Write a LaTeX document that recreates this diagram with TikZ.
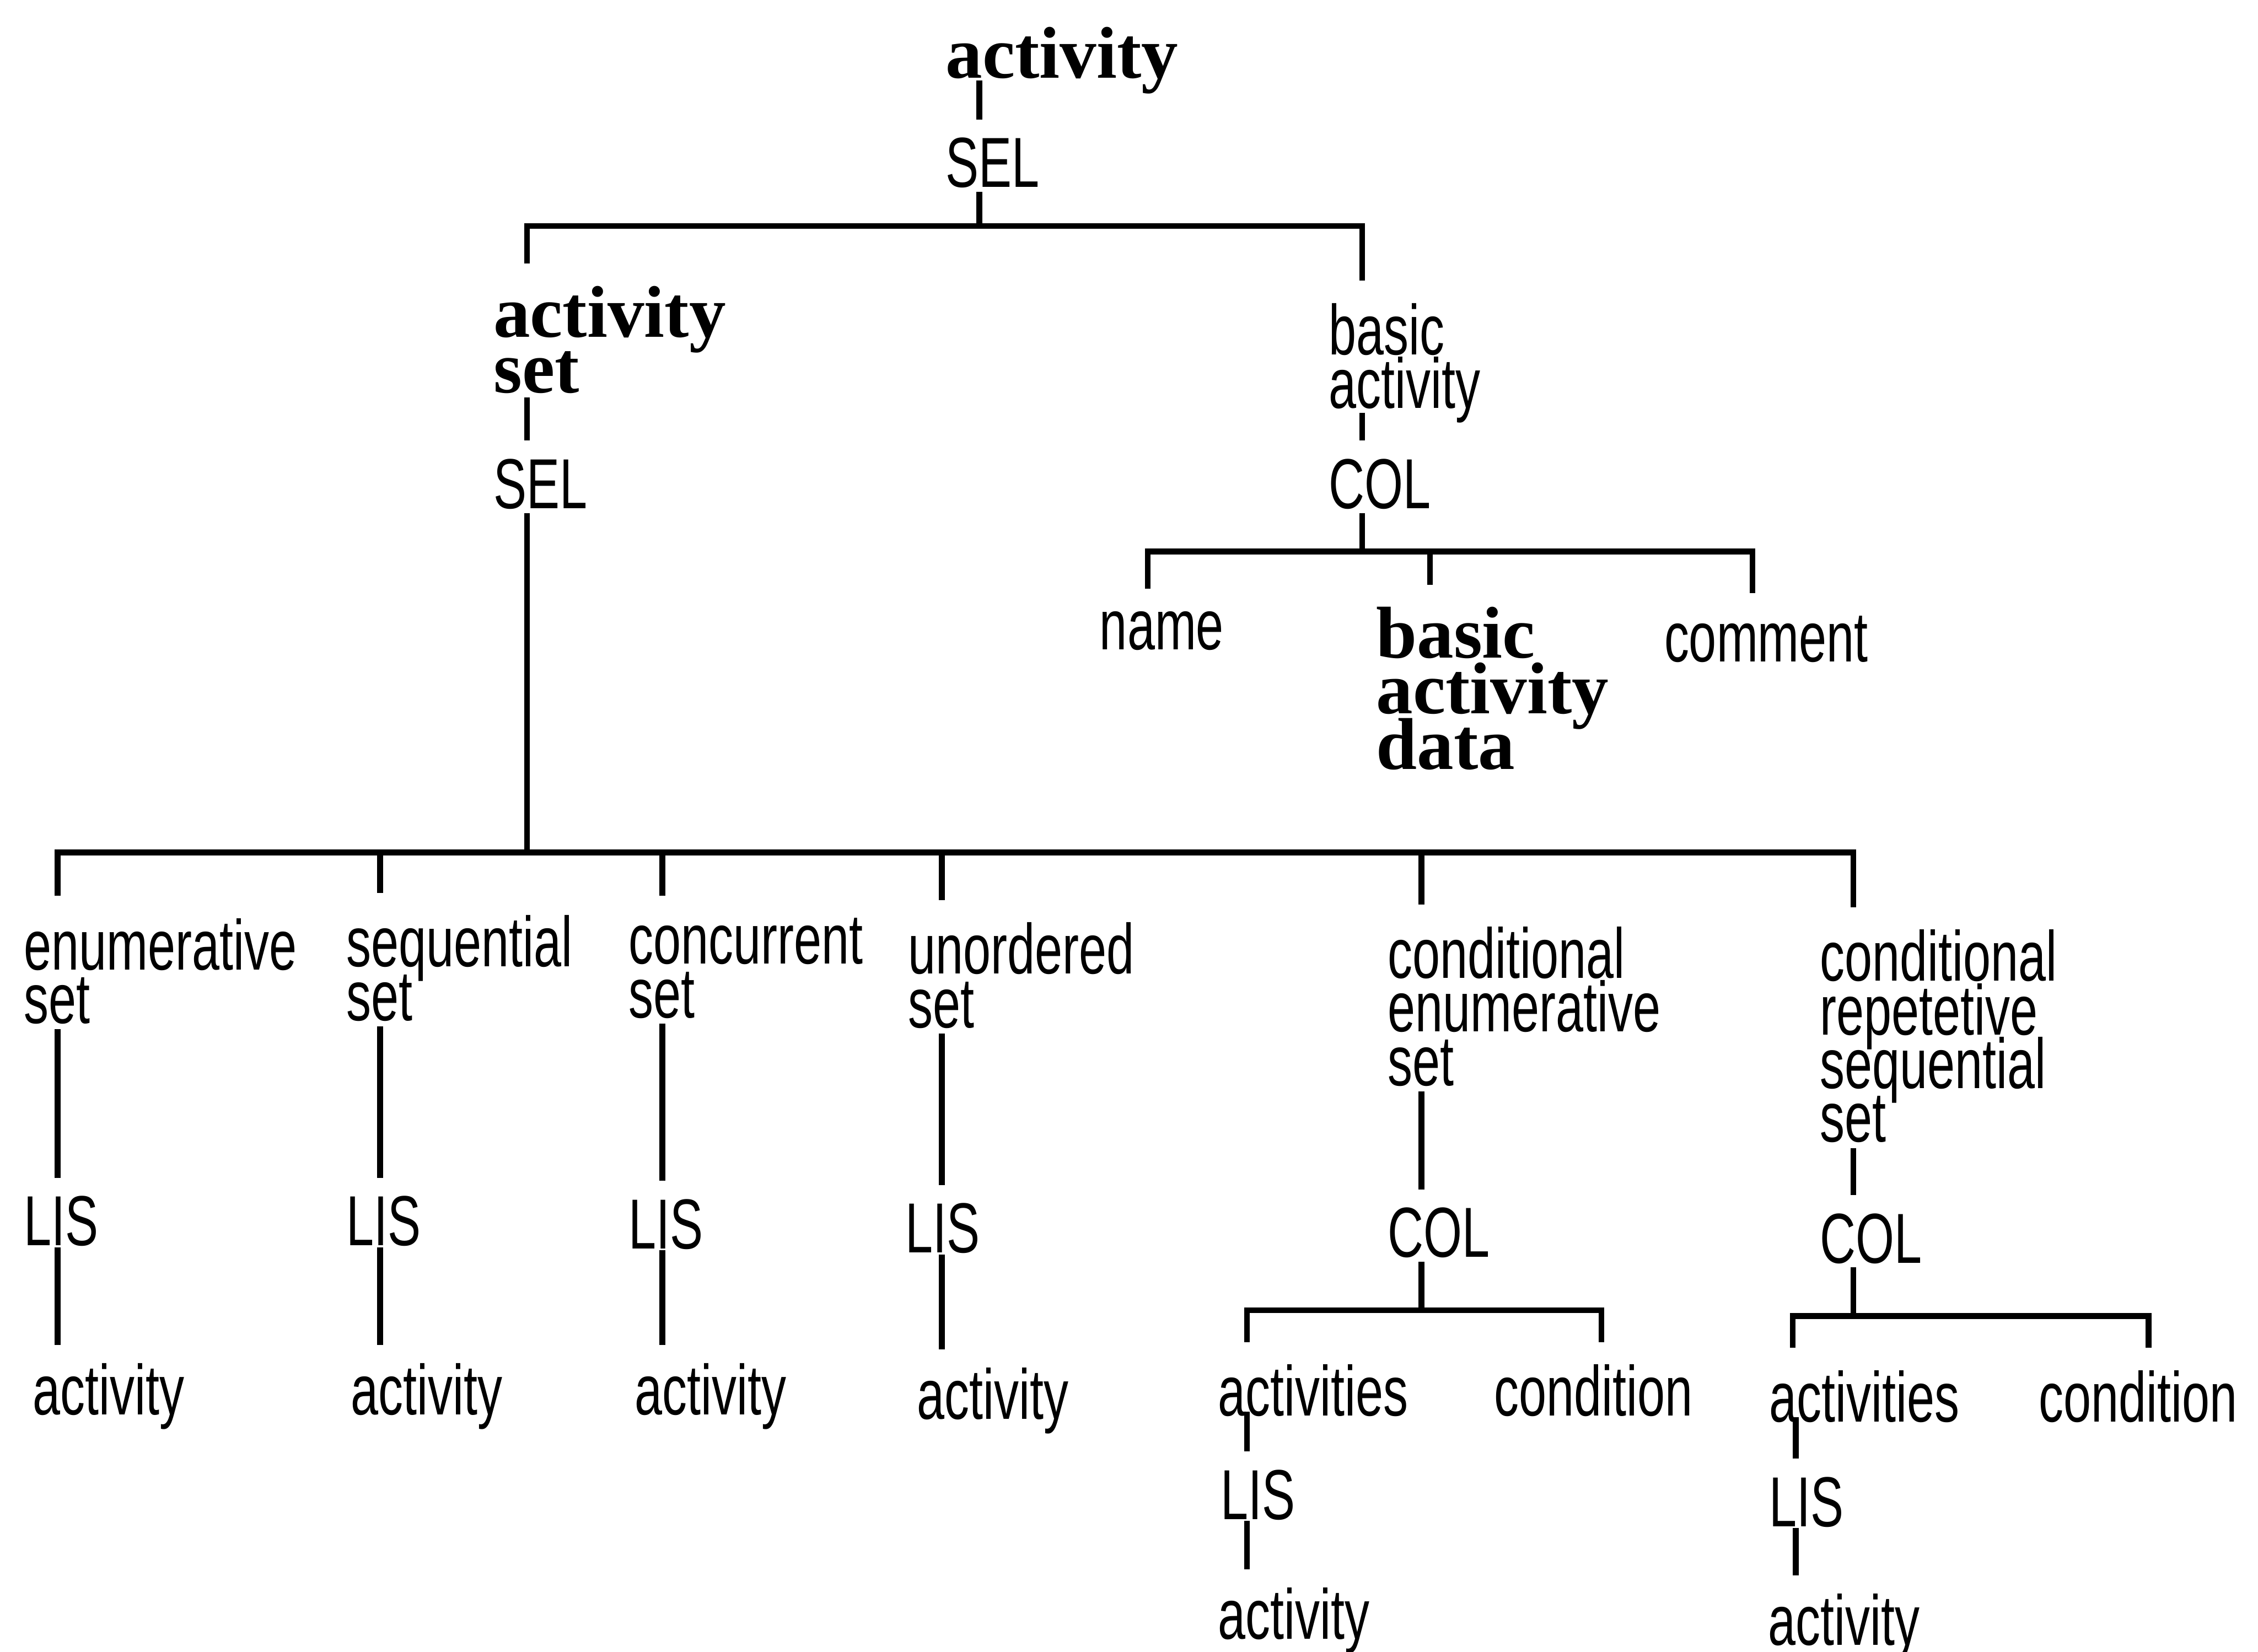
\documentclass[tikz,border=0pt]{standalone}
\usepackage{fontspec}
\setmainfont{Liberation Serif}
\newfontfamily\narrowsans{Liberation Sans}[FakeStretch=0.70]
\usetikzlibrary{positioning,calc}
\setlength{\lineskiplimit}{-20pt}

\tikzset{
  lbl/.style={inner sep=0pt, anchor=north west, align=left, font=\narrowsans\fontsize{14}{10.6}\selectfont},
  hdr/.style={inner sep=0pt, anchor=north west, align=left, font=\bfseries\fontsize{14.5}{11}\selectfont},
  link/.style={line width=0.4mm},
  down/.style={link, shorten >=1.2mm},
  drop/.style={link, shorten <=1.5mm},
}

\begin{document}
\begin{tikzpicture}[x=0.1mm, y=-0.1mm]
  \useasboundingbox (0,0) rectangle (1568,1147);
  % top part
  \node[hdr] (root) at (656,18) {activity};
  \node[lbl] (sel0) at (656,95) {SEL};
  \node[hdr] (actset) at (342,198) {activity\\set};
  \node[lbl] (sel1) at (342,318) {SEL};
  \node[lbl] (basic) at (922,210) {basic\\activity};
  \node[lbl] (col0) at (922,318) {COL};
  \node[lbl] (name) at (763,424) {name};
  \node[hdr] (bdata) at (955,421) {basic\\activity\\data};
  \node[lbl] (comment) at (1155,427) {comment};
  \coordinate (bar0) at (680,157);
  \coordinate (bar1) at (946,383);
  \coordinate (bar2) at (366,592);

  \draw[down] ($(root.base west)+(24,2)$) -- ($(sel0.north west)+(24,0)$);
  \draw[link] ($(sel0.south west)+(24,2)$) -- (bar0);
  \draw[drop, shorten >=1.5mm] ($(actset.north west)+(24,0)$) |- (bar0) -| ($(basic.north west)+(24,0)$);
  \draw[down] ($(actset.south west)+(24,2)$) -- ($(sel1.north west)+(24,0)$);
  \draw[down] ($(basic.south west)+(24,-8)$) -- ($(col0.north west)+(24,0)$);
  \draw[link] ($(col0.south west)+(24,2)$) -- (bar1);
  \draw[drop, shorten >=1.5mm] ($(name.north west)+(34,0)$) |- (bar1) -| ($(comment.north west)+(62,0)$);
  \draw[drop] ($(bdata.north west)+(38,0)$) |- (bar1);
  \draw[link] ($(sel1.south west)+(24,2)$) -- (bar2);

  % set kinds
  \node[lbl] (enum) at (16,637) {enumerative\\set};
  \node[lbl] (seq) at (240,635) {sequential\\set};
  \node[lbl] (conc) at (436,637) {concurrent\\set};
  \node[lbl] (unord) at (630,640) {unordered\\set};
  \node[lbl] (cenum) at (963,643) {conditional\\enumerative\\set};
  \node[lbl] (crep) at (1263,645) {conditional\\repetetive\\sequential\\set};

  \node[lbl] (lis1) at (16,830) {LIS};
  \node[lbl] (lis2) at (240,830) {LIS};
  \node[lbl] (lis3) at (436,832) {LIS};
  \node[lbl] (lis4) at (628,835) {LIS};
  \node[lbl] (act1) at (22,946) {activity};
  \node[lbl] (act2) at (243,946) {activity};
  \node[lbl] (act3) at (440,946) {activity};
  \node[lbl] (act4) at (636,949) {activity};

  \draw[drop, shorten >=1.5mm] ($(enum.north west)+(24,0)$) |- (bar2) -| ($(crep.north west)+(24,0)$);
  \foreach \n in {seq,conc,unord,cenum}
    \draw[drop] ($(\n.north west)+(24,0)$) |- (bar2);

  \foreach \n/\i in {enum/1,seq/2,conc/3,unord/4} {
    \coordinate (s\i) at ($(\n.south west)+(24,3)$);
    \draw[down] (s\i) -- (s\i |- lis\i.north);
    \draw[down] (s\i |- lis\i.south) -- (s\i |- act\i.north);
  }

  % conditional enumerative set
  \node[lbl] (col1) at (963,838) {COL};
  \coordinate (bar3) at (987,910);
  \node[lbl] (acts1) at (845,947) {activities};
  \node[lbl] (cond1) at (1037,947) {condition};
  \node[lbl] (lis5) at (847,1020) {LIS};
  \node[lbl] (act5) at (845,1102) {activity};
  \draw[down] ($(cenum.south west)+(24,3)$) -- ($(col1.north west)+(24,0)$);
  \draw[link] ($(col1.south west)+(24,2)$) -- (bar3);
  \draw[drop, shorten >=1.5mm] ($(acts1.north west)+(21,0)$) |- (bar3) -| ($(cond1.north west)+(75,0)$);
  \coordinate (t1) at ($(acts1.base west)+(21,-3)$);
  \draw[down] (t1) -- (t1 |- lis5.north);
  \draw[down] (t1 |- lis5.south) -- (t1 |- act5.north);

  % conditional repetetive sequential set
  \node[lbl] (col2) at (1263,842) {COL};
  \coordinate (bar4) at (1287,914);
  \node[lbl] (acts2) at (1228,951) {activities};
  \node[lbl] (cond2) at (1415,951) {condition};
  \node[lbl] (lis6) at (1228,1025) {LIS};
  \node[lbl] (act6) at (1227,1106) {activity};
  \draw[down] ($(crep.south west)+(24,3)$) -- ($(col2.north west)+(24,0)$);
  \draw[link] ($(col2.south west)+(24,2)$) -- (bar4);
  \draw[drop, shorten >=1.5mm] ($(acts2.north west)+(17,0)$) |- (bar4) -| ($(cond2.north west)+(77,0)$);
  \coordinate (t2) at ($(acts2.base west)+(19,-3)$);
  \draw[down] (t2) -- (t2 |- lis6.north);
  \draw[down] (t2 |- lis6.south) -- (t2 |- act6.north);
\end{tikzpicture}
\end{document}
